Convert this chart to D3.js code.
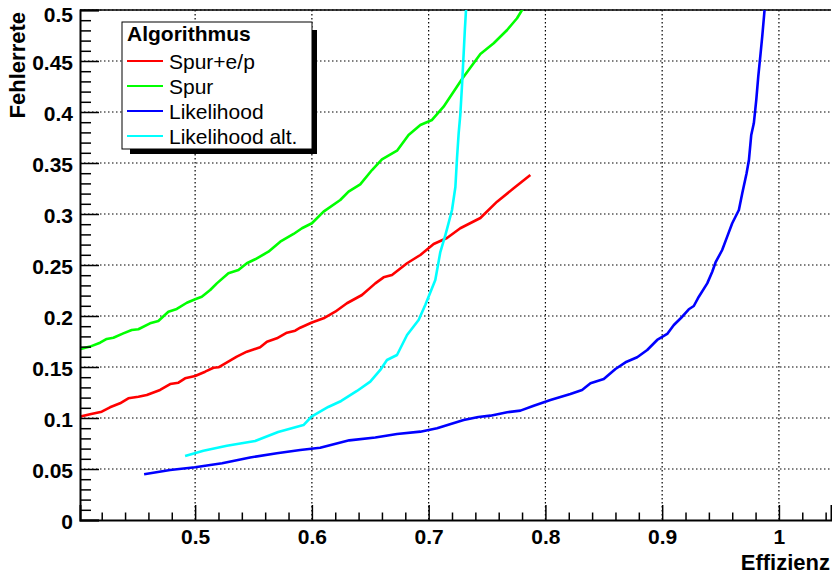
<!DOCTYPE html>
<html>
<head>
<meta charset="utf-8">
<script src="https://cdn.jsdelivr.net/npm/d3@7"></script>
<style>
  body { margin: 0; background: #fff; }
  svg { display: block; font-family: "Liberation Sans", Arial, Helvetica, sans-serif; }
</style>
</head>
<body>
<div id="chart"></div>
<script>
// tick values
const xMajor = [0.5, 0.6, 0.7, 0.8, 0.9, 1.0];
const yMajor = [0, 0.05, 0.1, 0.15, 0.2, 0.25, 0.3, 0.35, 0.4, 0.45, 0.5];
const xTickLabels = ['0.5', '0.6', '0.7', '0.8', '0.9', '1'];
const yTickLabels = ['0', '0.05', '0.1', '0.15', '0.2', '0.25', '0.3', '0.35', '0.4', '0.45', '0.5'];

const seriesNames = ['Spur+e/p', 'Spur', 'Likelihood', 'Likelihood alt.'];
const seriesColors = ['#ff0000', '#00ff00', '#0000ff', '#00ffff'];

// Spur+e/p  [effizienz, fehlerrate]
const spurEp = [
  [0.401, 0.1013], [0.410, 0.1036], [0.420, 0.1062], [0.4271, 0.1105], [0.4357, 0.1144],
  [0.4428, 0.1193], [0.4514, 0.1209], [0.4586, 0.1225], [0.470, 0.1275], [0.4786, 0.1333],
  [0.4857, 0.1346], [0.4914, 0.1389], [0.500, 0.1412], [0.5086, 0.1454], [0.5157, 0.1493],
  [0.520, 0.1497], [0.5357, 0.1601], [0.5443, 0.165], [0.5557, 0.1693], [0.5615, 0.1748],
  [0.570, 0.1781], [0.5786, 0.1836], [0.5857, 0.1856], [0.590, 0.1885], [0.600, 0.1936],
  [0.610, 0.1977], [0.620, 0.2042], [0.630, 0.2125], [0.6429, 0.2206], [0.6543, 0.232],
  [0.6614, 0.2379], [0.6686, 0.2402], [0.6815, 0.2517], [0.6929, 0.2598], [0.7043, 0.2706],
  [0.7157, 0.2765], [0.7271, 0.286], [0.7443, 0.2961], [0.7586, 0.3121], [0.7728, 0.3252],
  [0.7871, 0.3382]
];

// Spur
const spur = [
  [0.401, 0.1674], [0.410, 0.170], [0.4186, 0.1738], [0.4243, 0.1775], [0.430, 0.1787],
  [0.4385, 0.183], [0.4457, 0.1863], [0.4514, 0.187], [0.4614, 0.1928], [0.4685, 0.1951],
  [0.4771, 0.2042], [0.4843, 0.2069], [0.4929, 0.213], [0.500, 0.2164], [0.5057, 0.2189],
  [0.5129, 0.2255], [0.5186, 0.232], [0.5285, 0.2419], [0.5371, 0.2451], [0.5443, 0.2517],
  [0.5514, 0.2556], [0.5628, 0.263], [0.5729, 0.2728], [0.5843, 0.2804], [0.5915, 0.286],
  [0.600, 0.2909], [0.610, 0.3023], [0.6243, 0.3137], [0.6314, 0.3219], [0.6414, 0.3291],
  [0.6515, 0.3431], [0.660, 0.3536], [0.6729, 0.3621], [0.6828, 0.3775], [0.6929, 0.3873],
  [0.7029, 0.3922], [0.7128, 0.4052], [0.7286, 0.4324], [0.7443, 0.4569], [0.7557, 0.4674],
  [0.7672, 0.4804], [0.7757, 0.4919], [0.780, 0.500], [0.7829, 0.506]
];

// Likelihood
const likelihood = [
  [0.4563, 0.0448], [0.4786, 0.049], [0.500, 0.0517], [0.5231, 0.0556], [0.5471, 0.0613],
  [0.570, 0.0654], [0.590, 0.0686], [0.6071, 0.0709], [0.632, 0.0781], [0.6543, 0.0809],
  [0.6729, 0.0843], [0.6929, 0.0866], [0.7072, 0.0899], [0.730, 0.098], [0.7426, 0.101],
  [0.7529, 0.1023], [0.7672, 0.1056], [0.7786, 0.1072], [0.790, 0.1121], [0.8043, 0.1176],
  [0.8214, 0.1235], [0.8314, 0.1275], [0.8386, 0.134], [0.850, 0.1382], [0.860, 0.148],
  [0.8686, 0.1546], [0.8786, 0.1595], [0.8872, 0.1667], [0.8957, 0.1765], [0.9043, 0.1824],
  [0.910, 0.1912], [0.9172, 0.1993], [0.9228, 0.2066], [0.9271, 0.2098], [0.9314, 0.2189],
  [0.9386, 0.232], [0.9429, 0.2434], [0.9457, 0.2525], [0.9514, 0.2647], [0.9557, 0.2778],
  [0.960, 0.2909], [0.9657, 0.3039], [0.9686, 0.3203], [0.9723, 0.3399], [0.9743, 0.3529],
  [0.9763, 0.3775], [0.9785, 0.3889], [0.9806, 0.4118], [0.9823, 0.4346], [0.9843, 0.4575],
  [0.9857, 0.4738], [0.9877, 0.500], [0.9886, 0.507]
];

// Likelihood alt.
const likelihoodAlt = [
  [0.4914, 0.0627], [0.5071, 0.0679], [0.5272, 0.0728], [0.5514, 0.0775], [0.5711, 0.0863],
  [0.5928, 0.0931], [0.600, 0.1017], [0.614, 0.1108], [0.6251, 0.1167], [0.6386, 0.1265],
  [0.650, 0.1356], [0.6586, 0.1471], [0.6643, 0.1569], [0.6729, 0.1618], [0.6815, 0.1814],
  [0.6914, 0.1961], [0.6971, 0.2108], [0.7057, 0.2353], [0.710, 0.2627], [0.7143, 0.2794],
  [0.716, 0.2863], [0.720, 0.3039], [0.7229, 0.3265], [0.7243, 0.3549], [0.7257, 0.3791],
  [0.7271, 0.3971], [0.7286, 0.4265], [0.730, 0.4575], [0.731, 0.4804], [0.732, 0.500],
  [0.7323, 0.506]
];

const allSeries = [spurEp, spur, likelihood, likelihoodAlt];

const W = 832, H = 576;
const L = 80, R = 831, T = 10, B = 520;
const font = 21;

const svg = d3.select('#chart').append('svg')
  .attr('width', W)
  .attr('height', H);

svg.append('rect').attr('width', W).attr('height', H).attr('fill', '#fff');

const x = d3.scaleLinear().domain([0.4014, 1.0446]).range([L, R]);
const y = d3.scaleLinear().domain([0, 0.5]).range([B, T]);

const xMinor = d3.range(0.42, 1.045, 0.02).filter(v => !xMajor.some(m => Math.abs(m - v) < 1e-6));
const yMinor = d3.range(0.01, 0.5, 0.01).filter(v => !yMajor.some(m => Math.abs(m - v) < 1e-6));

// grid
const grid = svg.append('g');
grid.selectAll('line.gx')
  .data(xMajor)
  .enter().append('line')
  .attr('x1', d => x(d)).attr('x2', d => x(d))
  .attr('y1', T).attr('y2', B)
  .attr('stroke', '#000').attr('stroke-width', 1.2)
  .attr('stroke-dasharray', '1.5,2.5');
grid.selectAll('line.gy')
  .data(yMajor.filter(d => d > 0))
  .enter().append('line')
  .attr('x1', L).attr('x2', R)
  .attr('y1', d => y(d)).attr('y2', d => y(d))
  .attr('stroke', '#000').attr('stroke-width', 1.2)
  .attr('stroke-dasharray', '1.5,2.5');

// frame top
svg.append('line')
  .attr('x1', L).attr('x2', R).attr('y1', T).attr('y2', T)
  .attr('stroke', '#000').attr('stroke-width', 1.3);

// curves
svg.append('clipPath').attr('id', 'plotclip')
  .append('rect').attr('x', L).attr('y', T).attr('width', R - L).attr('height', B - T);

const line = d3.line().x(d => x(d[0])).y(d => y(d[1]));

svg.append('g').attr('clip-path', 'url(#plotclip)')
  .selectAll('path')
  .data(allSeries)
  .enter().append('path')
  .attr('d', line)
  .attr('fill', 'none')
  .attr('stroke', (d, i) => seriesColors[i])
  .attr('stroke-width', 2.6)
  .attr('stroke-linejoin', 'round');

// axes
const yAxis = svg.append('g')
  .attr('transform', `translate(${L},0)`)
  .call(d3.axisLeft(y).tickValues(yMajor).tickSize(-19).tickPadding(7)
    .tickFormat((d, i) => yTickLabels[i]));
// labels sit a little low, the top one pushed inside the page
yAxis.selectAll('.tick text')
  .attr('transform', d => d === 0.5 ? 'translate(0,5)' : 'translate(0,1.5)');
svg.append('g')
  .attr('transform', `translate(${L},0)`)
  .call(d3.axisLeft(y).tickValues(yMinor).tickSize(-11).tickFormat(''))
  .select('.domain').remove();

const xAxis = svg.append('g')
  .attr('transform', `translate(0,${B})`)
  .call(d3.axisBottom(x).tickValues(xMajor).tickSize(-15).tickPadding(9)
    .tickFormat((d, i) => xTickLabels[i]));
svg.append('g')
  .attr('transform', `translate(0,${B})`)
  .call(d3.axisBottom(x).tickValues(xMinor).tickSize(-7.5).tickFormat(''))
  .select('.domain').remove();

svg.selectAll('.tick line').attr('stroke', '#000').attr('stroke-width', 1.5);
svg.selectAll('.domain').attr('stroke', '#000').attr('stroke-width', 2);
svg.selectAll('.tick text')
  .attr('fill', '#000')
  .style('font-size', font + 'px')
  .style('font-weight', 'bold')
  .style('font-family', '"Liberation Sans", Arial, Helvetica, sans-serif');

// axis titles
svg.append('text')
  .attr('x', 830).attr('y', 570)
  .attr('text-anchor', 'end')
  .style('font-size', '22px').style('font-weight', 'bold')
  .text('Effizienz');

svg.append('text')
  .attr('transform', 'translate(25,12) rotate(-90)')
  .attr('text-anchor', 'end')
  .style('font-size', '22px').style('font-weight', 'bold')
  .text('Fehlerrete');

// legend
const lg = { x: 122, y: 22, w: 190, h: 127 };
svg.append('rect')
  .attr('x', lg.x + 8).attr('y', lg.y + 8)
  .attr('width', lg.w - 3).attr('height', lg.h - 3)
  .attr('fill', '#000');
svg.append('rect')
  .attr('x', lg.x).attr('y', lg.y)
  .attr('width', lg.w).attr('height', lg.h)
  .attr('fill', '#fff').attr('stroke', '#000').attr('stroke-width', 1);

svg.append('text')
  .attr('x', lg.x + 5).attr('y', lg.y + 19)
  .style('font-size', font + 'px').style('font-weight', 'bold')
  .text('Algorithmus');

const rows = svg.selectAll('g.legrow')
  .data(seriesNames)
  .enter().append('g')
  .attr('transform', (d, i) => `translate(${lg.x},${lg.y + 39 + i * 25})`);
rows.append('line')
  .attr('x1', 5).attr('x2', 41).attr('y1', 0).attr('y2', 0)
  .attr('stroke', (d, i) => seriesColors[i]).attr('stroke-width', 2.2);
rows.append('text')
  .attr('x', 47).attr('y', 7.5)
  .style('font-size', font + 'px')
  .text(d => d);
</script>
</body>
</html>
